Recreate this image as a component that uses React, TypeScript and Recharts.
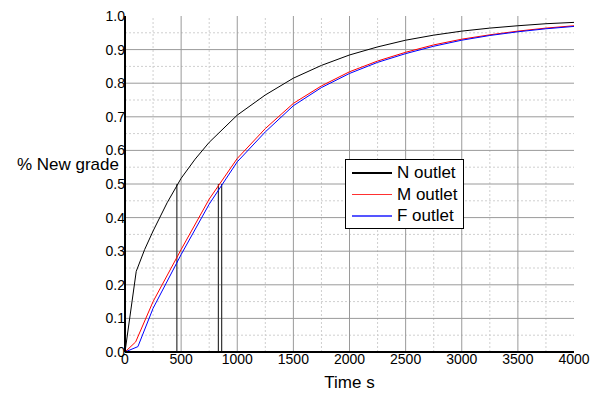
import React from 'react';
import { LineChart, Line, XAxis, YAxis, ReferenceLine } from 'recharts';

// time (s) / fraction of new grade
const timesN = [0, 100, 175, 250, 375, 500, 625, 750, 1000, 1250, 1500, 1750, 2000, 2250, 2500, 2750, 3000, 3250, 3500, 3750, 4000];
const valuesN = [0, 0.24, 0.305, 0.36, 0.444, 0.517, 0.574, 0.624, 0.705, 0.765, 0.815, 0.853, 0.884, 0.908, 0.928, 0.943, 0.955, 0.964, 0.971, 0.977, 0.981];

const timesM = [0, 95, 250, 500, 750, 1000, 1250, 1500, 1750, 2000, 2250, 2500, 2750, 3000, 3250, 3500, 3750, 4000];
const valuesM = [0, 0.03, 0.15, 0.305, 0.455, 0.576, 0.665, 0.74, 0.792, 0.834, 0.866, 0.892, 0.914, 0.931, 0.944, 0.955, 0.964, 0.971];

const timesF = [0, 115, 250, 500, 750, 1000, 1250, 1500, 1750, 2000, 2250, 2500, 2750, 3000, 3250, 3500, 3750, 4000];
const valuesF = [0, 0.016, 0.13, 0.29, 0.44, 0.566, 0.655, 0.733, 0.787, 0.829, 0.862, 0.888, 0.91, 0.928, 0.942, 0.953, 0.962, 0.969];

// time at which each outlet reaches 50%
const halfTimes = [462, 832, 861];

const xTicks = [0, 500, 1000, 1500, 2000, 2500, 3000, 3500, 4000];
const yTicks = [0, 0.1, 0.2, 0.3, 0.4, 0.5, 0.6, 0.7, 0.8, 0.9, 1.0];
const majorX = [500, 1000, 1500, 2000, 2500, 3000, 3500];
const minorX = [250, 750, 1250, 1750, 2250, 2750, 3250, 3750];
const majorY = [0.1, 0.2, 0.3, 0.4, 0.5, 0.6, 0.7, 0.8, 0.9];
const minorY = [0.05, 0.15, 0.25, 0.35, 0.45, 0.55, 0.65, 0.75, 0.85, 0.95];

const toPoints = (times: number[], values: number[]) => times.map((t, i) => ({ t, v: values[i] }));

const series = [
  { name: 'N outlet', color: '#000000', legend: '#000000', data: toPoints(timesN, valuesN) },
  { name: 'M outlet', color: '#ff0000', legend: '#ff3030', data: toPoints(timesM, valuesM) },
  { name: 'F outlet', color: '#0000ff', legend: '#5555ff', data: toPoints(timesF, valuesF) },
];

const font = '"Liberation Sans", Arial, sans-serif';

export default function App() {
  return (
    <div style={{ position: 'absolute', left: 0, top: 0, width: 598, height: 394, fontFamily: font, background: '#fff' }}>
      <LineChart width={598} height={394} margin={{ top: 16, right: 24, bottom: 41, left: 124 }}>
        <XAxis
          type="number"
          dataKey="t"
          domain={[0, 4000]}
          ticks={xTicks}
          height={1}
          tickLine={false}
          tickSize={0}
          tickMargin={2}
          axisLine={{ stroke: '#000', strokeWidth: 2 }}
          tick={{ fontSize: 14, fill: '#000', fontFamily: font }}
          label={{ value: 'Time s', position: 'bottom', offset: 23, fontSize: 17, fill: '#000', fontFamily: font }}
        />
        <YAxis
          type="number"
          domain={[0, 1]}
          ticks={yTicks}
          width={1}
          tickLine={false}
          tickSize={0}
          tickMargin={0}
          tickFormatter={(v: number) => v.toFixed(1)}
          axisLine={{ stroke: '#000', strokeWidth: 2 }}
          tick={{ fontSize: 14, fill: '#000', fontFamily: font }}
          label={{ value: '% New grade', position: 'left', offset: 5, dy: -20, fontSize: 17, fill: '#000', fontFamily: font }}
        />
        {minorX.map((x) => (
          <ReferenceLine key={'mx' + x} x={x} stroke="#cfcfcf" strokeDasharray="2 2" />
        ))}
        {minorY.map((y) => (
          <ReferenceLine key={'my' + y} y={y} stroke="#cfcfcf" strokeDasharray="2 2" />
        ))}
        {majorX.map((x) => (
          <ReferenceLine key={'x' + x} x={x} stroke="#9a9a9a" />
        ))}
        {majorY.map((y) => (
          <ReferenceLine key={'y' + y} y={y} stroke="#9a9a9a" />
        ))}
        {halfTimes.map((t) => (
          <ReferenceLine
            key={'h' + t}
            segment={[{ x: t, y: 0 }, { x: t, y: 0.5 }]}
            stroke="#333"
            strokeWidth={1.2}
          />
        ))}
        {series.map((s) => (
          <Line
            key={s.name}
            data={s.data}
            dataKey="v"
            type="linear"
            stroke={s.color}
            strokeWidth={1}
            dot={false}
            isAnimationActive={false}
          />
        ))}
      </LineChart>
      <div
        style={{
          position: 'absolute',
          left: 345,
          top: 159,
          width: 117,
          height: 66,
          border: '1px solid #000',
          background: '#fff',
          paddingTop: 2,
          boxSizing: 'content-box',
        }}
      >
        {series.map((s) => (
          <div key={s.name} style={{ display: 'flex', alignItems: 'center', height: 21.5 }}>
            <div style={{ marginLeft: 6, width: 40, height: 1.5, background: s.legend }} />
            <span style={{ marginLeft: 5, fontSize: 17, color: '#000', lineHeight: '21.5px' }}>{s.name}</span>
          </div>
        ))}
      </div>
    </div>
  );
}
